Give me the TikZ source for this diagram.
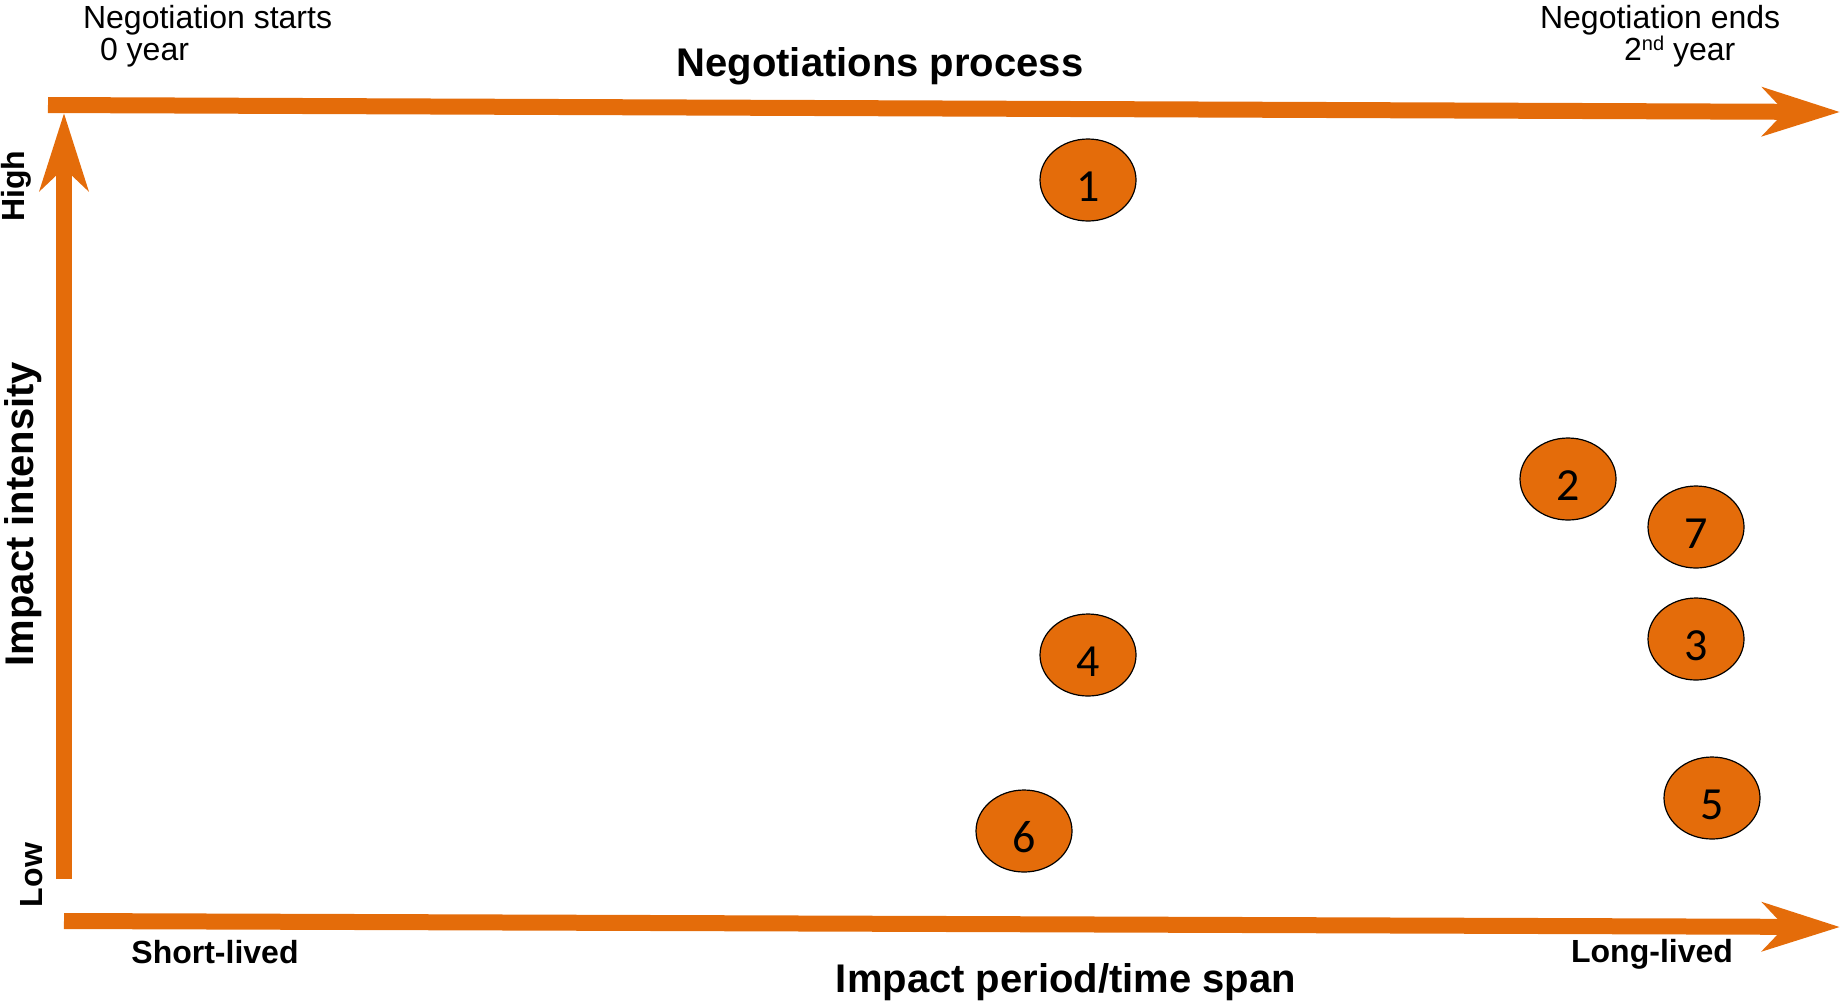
\documentclass[tikz,border=0pt]{standalone}
\usepackage{fontspec}
\setmainfont{Liberation Sans}
\newfontfamily\numfont{Carlito}
\usetikzlibrary{arrows.meta, shapes.geometric}
\definecolor{axisorange}{HTML}{E46C0A}

\begin{document}
\begin{tikzpicture}[
    x=0.5pt, y=-0.5pt,
    axis/.style={line width=8pt, draw=axisorange, -{Stealth[length=38.5pt, width=24pt, inset=11pt]}},
    impact/.style={ellipse, draw=black, line width=0.6pt, fill=axisorange, minimum width=48pt, minimum height=41pt, inner sep=0pt, text height=21pt, text depth=0pt, font=\numfont\fontsize{23}{23}\selectfont},
    note/.style={font=\fontsize{16}{19}\selectfont},
    tag/.style={font=\bfseries\fontsize{16}{19}\selectfont},
    heading/.style={font=\bfseries\fontsize{20}{24}\selectfont}
]
\useasboundingbox (0,0) rectangle (1840,1002);

% -------------------------
% AXES
% -------------------------
\coordinate (ProcStart) at (48,105);
\coordinate (ProcEnd) at (1840,112);
\coordinate (LowEnd) at (64,879);
\coordinate (HighEnd) at (64,113);
\coordinate (SpanStart) at (64,921);
\coordinate (SpanEnd) at (1840,927);

\draw[axis] (LowEnd) -- (HighEnd);
\draw[axis] (ProcStart) -- (ProcEnd);
\draw[axis] (SpanStart) -- (SpanEnd);

% -------------------------
% LABELS
% -------------------------
\node[note, anchor=base west] (NegStart) at (76,28) {Negotiation starts};
\node[note, anchor=base west] (YearZero) at (93,60) {0 year};
\node[note, anchor=base west] (NegEnd) at (1533,28) {Negotiation ends};
\node[note, anchor=base west] (YearTwo) at (1617,60) {2\raisebox{5pt}{\fontsize{10}{10}\selectfont nd} year};
\node[heading, anchor=base] (Process) at (880,76) {Negotiations process};

\node[heading, rotate=90, anchor=base] (Intensity) at (33,514) {Impact intensity};
\node[tag, rotate=90, anchor=base] (High) at (25,186) {High};
\node[tag, rotate=90, anchor=base] (Low) at (42,875) {Low};

\node[tag, anchor=base] (Short) at (215,963) {Short-lived};
\node[tag, anchor=base] (Long) at (1652,962) {Long-lived};
\node[heading, anchor=base] (Span) at (1066,992) {Impact period/time span};

% -------------------------
% IMPACTS
% -------------------------
\node[impact] (Imp1) at (1088,180) {1};
\node[impact] (Imp2) at (1568,479) {2};
\node[impact] (Imp3) at (1696,639) {3};
\node[impact] (Imp4) at (1088,655) {4};
\node[impact] (Imp5) at (1712,798) {5};
\node[impact] (Imp6) at (1024,831) {6};
\node[impact] (Imp7) at (1696,527) {7};

\end{tikzpicture}
\end{document}
